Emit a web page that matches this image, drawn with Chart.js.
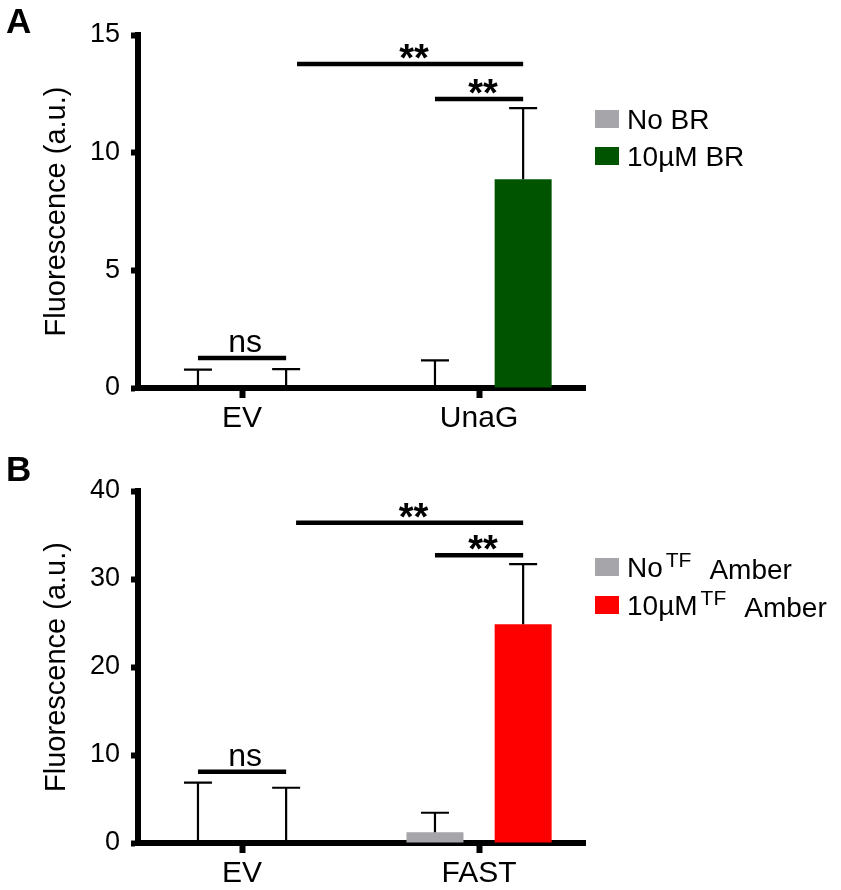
<!DOCTYPE html>
<html><head><meta charset="utf-8">
<script src="https://cdn.jsdelivr.net/npm/chart.js@4.4.1/dist/chart.umd.min.js"></script>
<style>
html,body{margin:0;padding:0;background:#fff;}
#wrap{position:relative;width:841px;height:890px;}
canvas{position:absolute;left:0;}
#cA{top:0}
#cB{top:445px}
</style></head><body>
<div id="wrap"><canvas id="cA" width="841" height="445"></canvas><canvas id="cB" width="841" height="445"></canvas></div>
<script>
// ---------- Panel A data ----------
const categoriesA = ['EV', 'UnaG'];
const seriesNamesA = ['No BR', '10µM BR'];
const noBR = [0, 0];
const noBRsd = [0.78, 1.17];
const br10 = [0, 8.87];
const br10sd = [0.80, 3.02];
const ticksA = [0, 5, 10, 15];

// ---------- Panel B data ----------
const categoriesB = ['EV', 'FAST'];
const seriesNamesB = ['No TFAmber', '10µM TFAmber'];
const noTF = [0, 1.22];
const noTFsd = [6.85, 2.22];
const tf10 = [0, 24.85];
const tf10sd = [6.28, 6.85];
const ticksB = [0, 10, 20, 30, 40];

// significance levels (in y-axis units) and labels
const sigLevelsA = [13.77, 12.28, 1.27];
const sigLevelsB = [36.4, 32.7, 8.1];
const sigLabels = ['**', '**', 'ns'];

// ---------- layout / style ----------
const FONT = "'Liberation Sans', Arial, Helvetica, sans-serif";
const BAR_OFF = 0.186;
const X_MIN = 0.561, X_MAX = 2.447;
const barX = (cat, s) => cat + 1 + (s === 0 ? -BAR_OFF : BAR_OFF);

function makeOverlay(extra) {
  return {
    id: 'overlay',
    afterDatasetsDraw(chart) {
      const ctx = chart.ctx, ys = chart.scales.y;
      ctx.save();
      ctx.strokeStyle = '#000';
      ctx.lineWidth = 2.2;
      chart.data.datasets.forEach((ds, di) => {
        const meta = chart.getDatasetMeta(di);
        meta.data.forEach((bar, i) => {
          const v = ds.data[i].y, e = ds.errors[i];
          const y0 = ys.getPixelForValue(v), y1 = ys.getPixelForValue(v + e);
          ctx.beginPath();
          ctx.moveTo(bar.x, y0); ctx.lineTo(bar.x, y1);
          ctx.moveTo(bar.x - 14, y1); ctx.lineTo(bar.x + 14, y1);
          ctx.stroke();
        });
      });
      ctx.restore();
    },
    afterDraw(chart) {
      const ctx = chart.ctx, xs = chart.scales.x, ys = chart.scales.y;
      ctx.save();
      // significance lines
      extra.sig.forEach(s => {
        const x1 = xs.getPixelForValue(s.x1), x2 = xs.getPixelForValue(s.x2);
        const y = ys.getPixelForValue(s.y);
        ctx.strokeStyle = '#000';
        ctx.lineWidth = 4.5;
        ctx.beginPath(); ctx.moveTo(x1, y); ctx.lineTo(x2, y); ctx.stroke();
        ctx.fillStyle = '#000';
        ctx.textAlign = 'center';
        ctx.textBaseline = 'alphabetic';
        if (s.text === 'ns') {
          ctx.font = '32px ' + FONT;
          ctx.fillText(s.text, (x1 + x2) / 2 + 3, y - 6);
        } else {
          ctx.font = 'bold 38px ' + FONT;
          ctx.fillText(s.text, (x1 + x2) / 2 + 4, y + 7);
        }
      });
      // legend
      extra.legend.forEach((row, r) => {
        const cy = extra.legendY + r * extra.legendGap;
        ctx.fillStyle = row.color;
        ctx.fillRect(595, cy - 9, 24, 18);
        ctx.fillStyle = '#000';
        ctx.textAlign = 'left';
        ctx.textBaseline = 'alphabetic';
        let x = 627;
        const base = cy + 10;
        row.parts.forEach(p => {
          if (p.style === 'sup') {
            x += 3;
            ctx.font = '21px ' + FONT;
            ctx.fillText(p.t, x, base - 10);
          } else if (p.style === 'sub') {
            x += 18;
            ctx.font = '28px ' + FONT;
            ctx.fillText(p.t, x, base + 2);
          } else {
            ctx.font = '28px ' + FONT;
            ctx.fillText(p.t, x, base);
          }
          x += ctx.measureText(p.t).width;
        });
      });
      // panel letter
      ctx.font = 'bold 35px ' + FONT;
      ctx.fillStyle = '#000';
      ctx.textAlign = 'left';
      ctx.fillText(extra.panel, 6, extra.panelY);
      ctx.restore();
    }
  };
}

function build(id, cats, series, ticks, yMax, topPad, xH, extra) {
  const datasets = series.map((s, si) => ({
    label: s.name,
    data: s.values.map((v, i) => ({ x: barX(i, si), y: v })),
    errors: s.sd,
    backgroundColor: s.color,
    borderWidth: 0,
    grouped: false,
    maxBarThickness: 57,
    barPercentage: 0.9
  }));
  return new Chart(document.getElementById(id), {
    type: 'bar',
    data: { datasets },
    options: {
      responsive: false,
      animation: false,
      devicePixelRatio: 1,
      layout: { padding: { left: 0, top: topPad, right: 256, bottom: 0 } },
      plugins: { legend: { display: false }, tooltip: { enabled: false } },
      scales: {
        x: {
          type: 'linear', min: X_MIN, max: X_MAX, offset: false, z: 1,
          afterBuildTicks: sc => { sc.ticks = cats.map((c, i) => ({ value: i + 1 })); },
          afterFit: sc => { sc.height = xH; },
          ticks: {
            callback: v => cats[Math.round(v) - 1] ?? '',
            font: { family: FONT, size: 30 }, color: '#000', padding: 3,
            maxRotation: 0, autoSkip: false
          },
          grid: { display: true, drawOnChartArea: false, drawTicks: true, tickLength: 10, tickWidth: 6, tickColor: '#000', offset: false },
          border: { display: true, width: 6, color: '#000' }
        },
        y: {
          min: 0, max: yMax, z: 1,
          afterBuildTicks: sc => { sc.ticks = ticks.map(v => ({ value: v })); },
          afterFit: sc => { sc.width = 138; },
          ticks: { font: { family: FONT, size: 27 }, color: '#000', padding: 11 },
          grid: { display: true, drawOnChartArea: false, drawTicks: true, tickLength: 7, tickWidth: 6, tickColor: '#000' },
          border: { display: true, width: 6, color: '#000' },
          title: { display: true, text: 'Fluorescence (a.u.)', font: { family: FONT, size: 29 }, color: '#000', padding: { top: 40, bottom: 0 } }
        }
      }
    },
    plugins: [makeOverlay(extra)]
  });
}

build('cA', categoriesA, [
  { name: seriesNamesA[0], values: noBR, sd: noBRsd, color: '#a5a5aa' },
  { name: seriesNamesA[1], values: br10, sd: br10sd, color: '#005400' }
], ticksA, 15, 35, 57, {
  panel: 'A', panelY: 33,
  sig: [
    { x1: 1.232, x2: barX(1, 1), y: sigLevelsA[0], text: sigLabels[0] },
    { x1: barX(1, 0), x2: barX(1, 1), y: sigLevelsA[1], text: sigLabels[1] },
    { x1: barX(0, 0), x2: barX(0, 1), y: sigLevelsA[2], text: sigLabels[2] }
  ],
  legendY: 119, legendGap: 37,
  legend: [
    { color: '#a5a5aa', parts: [{ t: seriesNamesA[0] }] },
    { color: '#005400', parts: [{ t: seriesNamesA[1] }] }
  ]
});

build('cB', categoriesB, [
  { name: seriesNamesB[0], values: noTF, sd: noTFsd, color: '#a5a5aa' },
  { name: seriesNamesB[1], values: tf10, sd: tf10sd, color: '#ff0000' }
], ticksB, 40, 46, 47, {
  panel: 'B', panelY: 36,
  sig: [
    { x1: 1.228, x2: barX(1, 1), y: sigLevelsB[0], text: sigLabels[0] },
    { x1: barX(1, 0), x2: barX(1, 1), y: sigLevelsB[1], text: sigLabels[1] },
    { x1: barX(0, 0), x2: barX(0, 1), y: sigLevelsB[2], text: sigLabels[2] }
  ],
  legendY: 122, legendGap: 38,
  legend: [
    { color: '#a5a5aa', parts: [{ t: 'No' }, { t: 'TF', style: 'sup' }, { t: 'Amber', style: 'sub' }] },
    { color: '#ff0000', parts: [{ t: '10µM' }, { t: 'TF', style: 'sup' }, { t: 'Amber', style: 'sub' }] }
  ]
});
</script>
</body></html>
